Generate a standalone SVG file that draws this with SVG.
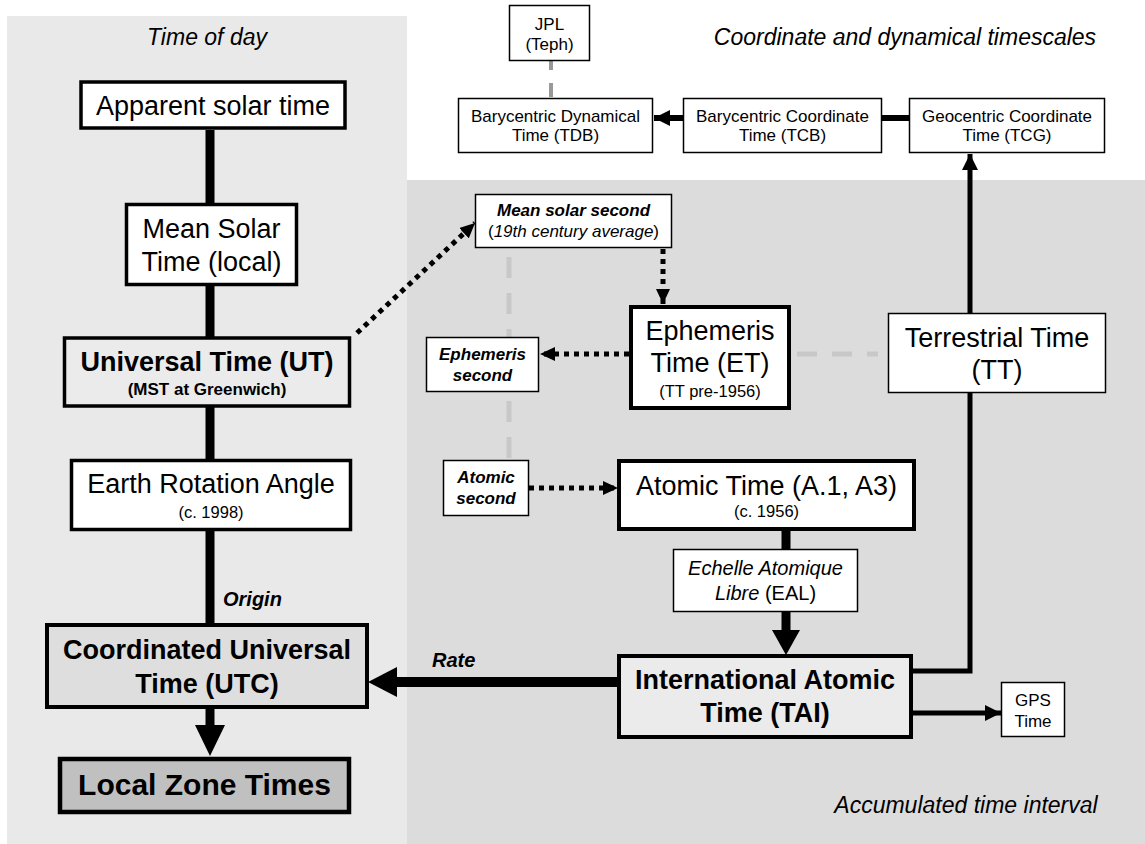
<svg xmlns="http://www.w3.org/2000/svg" width="1145" height="844" viewBox="0 0 1145 844">
<style>
text{font-family:"Liberation Sans",Arial,sans-serif;text-anchor:middle;fill:#000}
.big{font-size:27px}
.bigb{font-size:27px;font-weight:bold}
.sm{font-size:17px}
.sub{font-size:16.5px}
.smbi{font-size:17px;font-weight:bold;font-style:italic}
.head{font-size:23px;font-style:italic}
.lab{font-size:20px;font-weight:bold;font-style:italic;text-anchor:start}
.it{font-style:italic}
.thin{stroke:#000;stroke-width:1.5;fill:#fff}
.mid{stroke:#000;stroke-width:3.5;fill:#fff}
.thick{stroke:#000;stroke-width:4;fill:#fff}
.solid{stroke:#000;fill:none}
.dot{stroke:#000;stroke-width:5;stroke-dasharray:5 5;fill:none;marker-end:url(#ah)}
.gdash{stroke:#c8c8c8;stroke-width:5;fill:none}
</style>
<defs>
<marker id="ah" markerUnits="userSpaceOnUse" markerWidth="16" markerHeight="14" refX="15" refY="7" orient="auto">
<path d="M0,0 L15,7 L0,14 z" fill="#000"/>
</marker>
<marker id="ah2" markerUnits="userSpaceOnUse" markerWidth="17" markerHeight="16" refX="16" refY="8" orient="auto">
<path d="M0,0 L16,8 L0,16 z" fill="#000"/>
</marker>
</defs>

<g id="panels">
<rect x="7" y="16" width="400" height="828" fill="#e9e9e9"/>
<rect x="407" y="180" width="738" height="664" fill="#dcdcdc"/>
<text class="head" x="207" y="45">Time of day</text>
<text class="head" x="905" y="45">Coordinate and dynamical timescales</text>
<text class="head" x="966" y="813">Accumulated time interval</text>
</g>

<g id="connectors">
<line class="solid" x1="210" y1="130" x2="210" y2="624" stroke-width="9"/>
<line class="solid" x1="210" y1="708" x2="210" y2="727" stroke-width="9"/>
<polygon points="195,725 225,725 210,756" fill="#000"/>
<line class="solid" x1="617" y1="682" x2="396" y2="682" stroke-width="10"/>
<polygon points="368,682 397,667 397,697" fill="#000"/>
<line class="solid" x1="786" y1="530" x2="786" y2="550" stroke-width="9"/>
<line class="solid" x1="786" y1="611" x2="786" y2="632" stroke-width="9"/>
<polygon points="772,630 800,630 786,655" fill="#000"/>
<path class="solid" d="M913,671 H970 V154" stroke-width="5" marker-end="url(#ah2)"/>
<path class="solid" d="M913,713 H1001" stroke-width="5" marker-end="url(#ah2)"/>
<path class="solid" d="M683,118 H654" stroke-width="6" marker-end="url(#ah2)"/>
<path class="solid" d="M882,118 H909" stroke-width="6"/>
<path d="M551,61 V97" stroke="#999" stroke-width="4" stroke-dasharray="9 13 14" fill="none"/>
<path class="gdash" d="M509,257 V460" stroke-dasharray="21 15"/>
<path class="gdash" d="M797,354 H878" stroke-dasharray="20 15"/>
<path class="dot" d="M357,333 L475,223"/>
<path class="dot" d="M663,249 V304"/>
<path class="dot" d="M629,354 H540"/>
<path class="dot" d="M529,488 H618"/>
<text class="lab" x="223" y="606">Origin</text>
<text class="lab" x="432" y="667">Rate</text>
</g>

<g id="apparent">
<rect class="mid" x="81" y="82" width="264" height="46"/>
<text class="big" x="213" y="115">Apparent solar time</text>
</g>
<g id="meansolar">
<rect class="mid" x="126.5" y="204.5" width="170" height="80"/>
<text class="big" x="211.5" y="238">Mean Solar</text>
<text class="big" x="211.5" y="271">Time (local)</text>
</g>
<g id="ut">
<rect class="mid" x="64.5" y="338" width="285" height="68" fill="#ebebeb" style="fill:#ebebeb"/>
<text class="bigb" x="207" y="371">Universal Time (UT)</text>
<text x="207" y="395" style="font-size:17px;font-weight:bold">(MST at Greenwich)</text>
</g>
<g id="era">
<rect class="mid" x="71.5" y="460.5" width="279" height="69"/>
<text class="big" x="211" y="493">Earth Rotation Angle</text>
<text class="sub" x="211" y="518">(c. 1998)</text>
</g>
<g id="utc">
<rect class="thick" x="47" y="625" width="320" height="82" style="fill:#dedede"/>
<text class="bigb" x="207" y="659">Coordinated Universal</text>
<text class="bigb" x="207" y="693">Time (UTC)</text>
</g>
<g id="local">
<rect class="thick" x="60" y="759" width="289" height="53" style="fill:#c0c0c0;stroke-width:4.5"/>
<text x="204.5" y="795" style="font-size:30px;font-weight:bold">Local Zone Times</text>
</g>
<g id="jpl">
<rect class="thin" x="509.5" y="5.5" width="80" height="55"/>
<text class="sm" x="549.5" y="30">JPL</text>
<text class="sm" x="549.5" y="50">(Teph)</text>
</g>
<g id="tdb">
<rect class="thin" x="458.5" y="98.5" width="194" height="54"/>
<text class="sm" x="555.5" y="122">Barycentric Dynamical</text>
<text class="sm" x="555.5" y="141">Time (TDB)</text>
</g>
<g id="tcb">
<rect class="thin" x="683.5" y="98.5" width="198" height="54"/>
<text class="sm" x="782.5" y="122">Barycentric Coordinate</text>
<text class="sm" x="782.5" y="141">Time (TCB)</text>
</g>
<g id="tcg">
<rect class="thin" x="909.5" y="98.5" width="195" height="54"/>
<text class="sm" x="1007" y="122">Geocentric Coordinate</text>
<text class="sm" x="1007" y="141">Time (TCG)</text>
</g>
<g id="meansolarsecond">
<rect class="thin" x="475.5" y="194.5" width="196" height="53"/>
<text class="smbi" x="573.5" y="216">Mean solar second</text>
<text class="sm" x="573.5" y="237">(<tspan class="it">19th century average</tspan>)</text>
</g>
<g id="ephemerissecond">
<rect class="thin" x="426.5" y="337.5" width="112" height="54"/>
<text class="smbi" x="482.5" y="360">Ephemeris</text>
<text class="smbi" x="482.5" y="381">second</text>
</g>
<g id="et">
<rect class="thick" x="631" y="307" width="158" height="101"/>
<text class="big" x="710" y="340">Ephemeris</text>
<text class="big" x="710" y="372">Time (ET)</text>
<text class="sub" x="710" y="397">(TT pre-1956)</text>
</g>
<g id="tt">
<rect class="thin" x="888.5" y="313.5" width="217" height="79"/>
<text class="big" x="997" y="347">Terrestrial Time</text>
<text class="big" x="997" y="379">(TT)</text>
</g>
<g id="atomicsecond">
<rect class="thin" x="443.5" y="460.5" width="85" height="55"/>
<text class="smbi" x="486" y="483">Atomic</text>
<text class="smbi" x="486" y="504">second</text>
</g>
<g id="atomictime">
<rect class="thick" x="619" y="461" width="295" height="68"/>
<text class="big" x="766.5" y="495">Atomic Time (A.1, A3)</text>
<text class="sub" x="766.5" y="517">(c. 1956)</text>
</g>
<g id="eal">
<rect class="thin" x="673.5" y="549.5" width="184" height="62"/>
<text x="765.5" y="575" style="font-size:20px;font-style:italic">Echelle Atomique</text>
<text x="765.5" y="600" style="font-size:20px"><tspan class="it">Libre</tspan> (EAL)</text>
</g>
<g id="tai">
<rect class="thick" x="619" y="656" width="292" height="81" style="fill:#ebebeb"/>
<text class="bigb" x="765" y="689">International Atomic</text>
<text class="bigb" x="765" y="722">Time (TAI)</text>
</g>
<g id="gps">
<rect class="thin" x="1001.5" y="682.5" width="63" height="54"/>
<text class="sm" x="1033" y="706">GPS</text>
<text class="sm" x="1033" y="727">Time</text>
</g>
</svg>
